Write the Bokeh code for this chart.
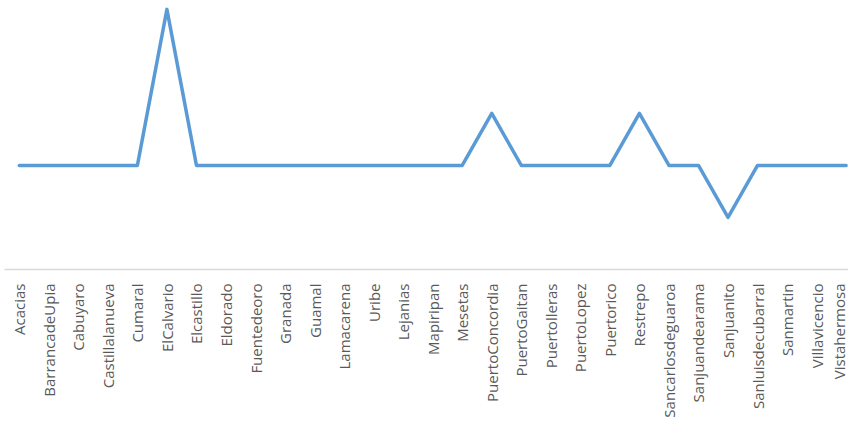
from bokeh.plotting import figure
from bokeh.models import Range1d, FixedTicker, ColumnDataSource
from bokeh.embed import file_html
from bokeh.resources import INLINE

categories = ["Acacias", "BarrancadeUpia", "Cabuyaro", "Castillalanueva", "Cumaral",
              "ElCalvario", "Elcastillo", "Eldorado", "Fuentedeoro", "Granada", "Guamal",
              "Lamacarena", "Uribe", "Lejanias", "Mapiripan", "Mesetas", "PuertoConcordia",
              "PuertoGaitan", "Puertolleras", "PuertoLopez", "Puertorico", "Restrepo",
              "Sancarlosdeguaroa", "Sanjuandearama", "Sanjuanito", "Sanluisdecubarral",
              "Sanmartin", "Villavicencio", "Vistahermosa"]
values = [0, 0, 0, 0, 0, 3, 0, 0, 0, 0, 0, 0, 0, 0, 0, 0, 1, 0, 0, 0, 0, 1, 0, 0, -1, 0, 0, 0, 0]

idx = list(range(len(categories)))
src = ColumnDataSource(data=dict(x=idx, y=values, name=categories))

p = figure(width=848, height=428, output_backend="svg", toolbar_location=None,
           x_range=Range1d(-0.5, 28.08), y_range=Range1d(-2, 3.17),
           y_axis_location=None, min_border_left=4, min_border_right=0,
           min_border_top=0, min_border_bottom=159)
p.outline_line_color = None
p.xgrid.visible = False
p.ygrid.visible = False

p.line("x", "y", source=src, line_color="#5b9bd5", line_width=3.5,
       line_join="round", line_cap="round")

ax = p.xaxis[0]
ax.ticker = FixedTicker(ticks=idx)
ax.major_label_overrides = {i: c for i, c in zip(idx, categories)}
ax.major_label_orientation = 3.14159265 / 2
ax.major_tick_in = 0
ax.major_tick_out = 0
ax.minor_tick_in = 0
ax.minor_tick_out = 0
ax.axis_line_color = "#d9d9d9"
ax.axis_line_width = 1.5
ax.major_label_standoff = 14
ax.major_label_text_font = "Open Sans"
ax.major_label_text_font_size = "15px"
ax.major_label_text_color = "#595959"

open("out.html", "w").write(file_html(p, INLINE))
